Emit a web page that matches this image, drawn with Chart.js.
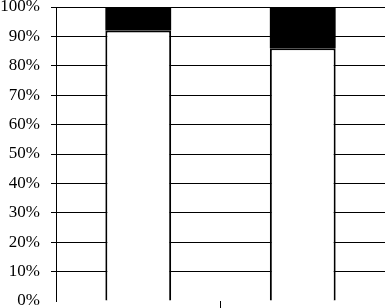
<!DOCTYPE html>
<html>
<head>
<meta charset="utf-8">
<script src="https://cdn.jsdelivr.net/npm/chart.js@4"></script>
<style>
    html, body { margin: 0; padding: 0; background: #fff; }
    #grafico { width: 385px; height: 308px; }
</style>
</head>
<body>
<div id="grafico"><canvas id="lienzo" width="385" height="308"></canvas></div>
<script>
const categorias = ["", ""];
const valoresBlanco = [92, 86];
const valoresNegro = [8, 14];
const marcasY = [0, 10, 20, 30, 40, 50, 60, 70, 80, 90, 100];

function crearGrafico(canvas) {
    return new Chart(canvas, {
        type: "bar",
        data: {
            labels: categorias,
            datasets: [{
                data: valoresBlanco,
                backgroundColor: "#fff",
                borderColor: "#000",
                borderWidth: 2,
                borderSkipped: "bottom"
            }, {
                data: valoresNegro,
                backgroundColor: "#000",
                borderWidth: 0
            }]
        },
        options: {
            responsive: false,
            animation: false,
            devicePixelRatio: 1,
            layout: { padding: { top: 7, left: 0, right: 0, bottom: 0 } },
            datasets: { bar: { categoryPercentage: 1, barPercentage: 0.4 } },
            plugins: { legend: { display: false }, tooltip: { enabled: false } },
            scales: {
                x: {
                    stacked: true,
                    border: { display: false },
                    grid: {
                        drawOnChartArea: false,
                        drawTicks: true,
                        tickLength: 7,
                        color: ctx => ctx.index === 0 ? "rgba(0,0,0,0)" : "#000"
                    },
                    ticks: { display: false },
                    afterFit: escala => { escala.height = 7; }
                },
                y: {
                    stacked: true,
                    min: 0,
                    max: 100,
                    afterBuildTicks: escala => { escala.ticks = marcasY.map(v => ({ value: v })); },
                    border: { display: true, color: "#000", width: 1 },
                    grid: {
                        color: ctx => ctx.tick && ctx.tick.value === 0 ? "rgba(0,0,0,0)" : "#000",
                        tickLength: 5
                    },
                    ticks: {
                        padding: 11,
                        color: "#000",
                        font: { family: "'Liberation Serif', serif", size: 17 },
                        callback: v => v + "%"
                    },
                    afterFit: escala => {
                        escala.width = 56;
                        escala.paddingTop = 0;
                        escala.paddingBottom = 0;
                    }
                }
            }
        }
    });
}

crearGrafico(document.getElementById("lienzo"));
</script>
</body>
</html>
